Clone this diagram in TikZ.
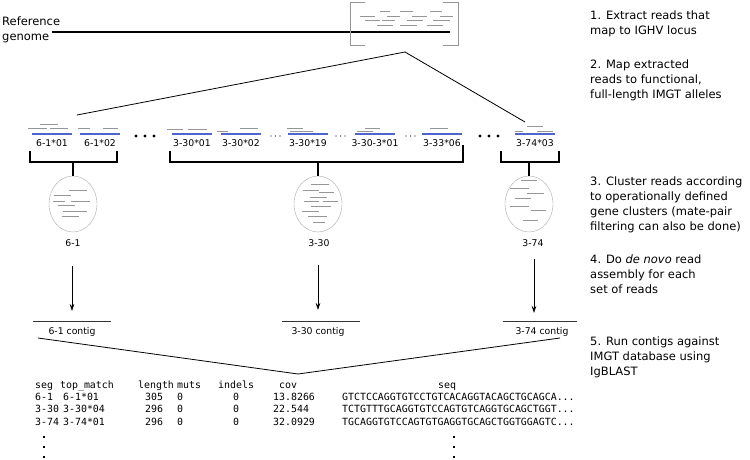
\documentclass[tikz,border=0pt]{standalone}
\usepackage{fontspec}
\setmainfont{DejaVu Sans}
\setmonofont{DejaVu Sans Mono}
\usetikzlibrary{arrows.meta,shapes.geometric}
\definecolor{readgray}{RGB}{150,150,150}
\definecolor{hitblue}{RGB}{80,100,205}

\begin{document}
\begin{tikzpicture}[x=1pt,y=-1pt,
	read/.style={readgray,line width=1pt},
	hit/.style={hitblue,line width=1.1pt},
	brace/.style={line width=1.6pt},
	tag/.style={inner sep=0pt,anchor=base,font=\fontsize{9.3}{11}\selectfont},
	note/.style={inner sep=0pt,anchor=north west,align=left,font=\fontsize{11.5}{15}\selectfont},
	cell/.style={inner sep=0pt,anchor=base west,font=\ttfamily\fontsize{9.9}{12}\selectfont},
	cluster/.style={ellipse,draw=readgray!80,minimum width=48pt,minimum height=56pt,inner sep=0pt},
	flow/.style={line width=0.6pt,-{Stealth[length=7pt,width=4.5pt]}}]
\useasboundingbox (0,0) rectangle (750,460);

% reference genome and the IGHV locus
\node[note] (ref) at (2,16.5) {Reference\\genome};
\coordinate (g0) at (52,32); \coordinate (g1) at (450,32);
\draw[line width=1.8pt] (g0) -- (g1);
\draw[readgray,line width=0.8pt] (365,2) -| (350,45) -- (365,45);
\draw[readgray,line width=0.8pt] (443,2) -| (458,45) -- (443,45);
\foreach \a/\b/\y in {380/390/12,400/413/12,430/442/12,
	360/375/16.5,387/400/16.5,412/427/16.5,440/453/16.5,
	365/380/21,382/395/21,407/423/21,433/450/21,
	377/393/26,400/417/26,427/443/26}
	\draw[read] (\a,\y) -- (\b,\y);
\coordinate (z0) at (405,52); \coordinate (zl) at (77,115); \coordinate (zr) at (525,122);
\draw[line width=0.8pt] (zl) -- (z0) -- (zr);

% alleles with mapped reads
\foreach \x/\lab [count=\i] in {52/6-1*01,100/6-1*02,192/3-30*01,241/3-30*02,
	308/3-30*19,375/3-30-3*01,442/3-33*06,535/3-74*03}{
	\draw[hit] (\x-20,134) -- (\x+20,134);
	\node[tag] (al\i) at (\x,146.5) {\lab};
}
\foreach \a/\b/\y in {40/58/124,28/47/128,50/68/128,78/90/128,103/118/128,
	167/183/129,188/207/129,217/228/131,240/258/128,
	287/303/128,290/313/131,365/380/128,357/373/131,430/448/128,
	527/543/126,515/523/131,537/553/131}
	\draw[read] (\a,\y) -- (\b,\y);
\foreach \x in {136,145,154,480,489,498} \fill (\x,136) circle (1.6pt);
\foreach \x in {271,275.5,280,336,340.5,345,406,410.5,415} \fill (\x,136) circle (0.7pt);

% gene clusters
\node[cluster] (c61) at (73,204) {};
\node[cluster] (c330) at (318,204) {};
\node[cluster] (c374) at (529,204) {};
\draw[brace] (30,151) |- (117,162) -- (117,151);
\draw[brace] (170,151) |- (463,162) -- (463,145);
\draw[brace] (501,151) |- (559,162) -- (559,151);
\draw[brace] (c61.north) -- (c61.north |- 0,162);
\draw[brace] (c330.north) -- (c330.north |- 0,162);
\draw[brace] (c374.north) -- (c374.north |- 0,162);
\foreach \a/\b/\y in {69/87/190,54/71/195,53/65/201,71/90/201,58/75/205,63/87/211,62/79/216,
	311/329/184,303/319/190,319/334/192,310/327/197,304/319/201,323/338/201,
	311/331/206,302/319/211,308/327/216,313/325/222,
	521/537/180,510/529/188,527/544/193,515/531/198,510/529/206,531/546/210,523/538/220}
	\draw[read] (\a,\y) -- (\b,\y);
\node[tag] (n61) at (73,246) {6-1};
\node[tag] (n330) at (319,246) {3-30};
\node[tag] (n374) at (533,246) {3-74};

% assembly into contigs
\coordinate (a61) at (72,266); \coordinate (k61) at (72,311);
\coordinate (a330) at (318,265); \coordinate (k330) at (318,310);
\coordinate (a374) at (534,259); \coordinate (k374) at (534,313);
\draw[flow] (a61) -- (k61);
\draw[flow] (a330) -- (k330);
\draw[flow] (a374) -- (k374);
\draw[line width=0.7pt,black!80] (33,321.5) -- (111,321.5);
\draw[line width=0.7pt,black!80] (282,321.5) -- (360,321.5);
\draw[line width=0.7pt,black!80] (503,321.5) -- (577,321.5);
\node[tag] (t61) at (72,334) {6-1 contig};
\node[tag] (t330) at (318,334) {3-30 contig};
\node[tag] (t374) at (542,334) {3-74 contig};
\coordinate (v0) at (38,338); \coordinate (v1) at (298,374); \coordinate (v2) at (560,338);
\draw[line width=0.8pt] (v0) -- (v1) -- (v2);

% IgBLAST output
\node[cell] (hseg) at (35,388) {seg};
\node[cell] (htop) at (60,388) {top\_match};
\node[cell] (hlen) at (138,388) {length};
\node[cell] (hmut) at (177,388) {muts};
\node[cell] (hind) at (218,388) {indels};
\node[cell] (hcov) at (279,388) {cov};
\node[cell] (hseq) at (438,388) {seq};
\foreach \y/\sg/\tm/\ln/\cv/\sq [count=\i] in {
	400/6-1/6-1*01/305/13.8266/GTCTCCAGGTGTCCTGTCACAGGTACAGCTGCAGCA,
	412.5/3-30/3-30*04/296/22.544/TCTGTTTGCAGGTGTCCAGTGTCAGGTGCAGCTGGT,
	425/3-74/3-74*01/296/32.0929/TGCAGGTGTCCAGTGTGAGGTGCAGCTGGTGGAGTC}{
	\node[cell] (sg\i) at (35,\y) {\sg};
	\node[cell] (tm\i) at (63,\y) {\tm};
	\node[cell] (ln\i) at (145,\y) {\ln};
	\node[cell] (mu\i) at (177,\y) {0};
	\node[cell] (in\i) at (233,\y) {0};
	\node[cell] (cv\i) at (273,\y) {\cv};
	\node[cell] (sq\i) at (342,\y) {\sq...};
}
\foreach \y in {437,447,457}{
	\fill (42.75,\y-1.25) rectangle ++(2.5,2.5);
	\fill (452.75,\y-1.25) rectangle ++(2.5,2.5);
}

% steps
\node[note] (s1) at (590,10.3) {1. Extract reads that\\map to IGHV locus};
\node[note] (s2) at (590,59.3) {2. Map extracted\\reads to functional,\\full-length IMGT alleles};
\node[note] (s3) at (590,176.3) {3. Cluster reads according\\to operationally defined\\gene clusters (mate-pair\\filtering can also be done)};
\node[note] (s4) at (590,254.3) {4. Do \textit{de novo} read\\assembly for each\\set of reads};
\node[note] (s5) at (590,336.3) {5. Run contigs against\\IMGT database using\\IgBLAST};
\end{tikzpicture}
\end{document}
